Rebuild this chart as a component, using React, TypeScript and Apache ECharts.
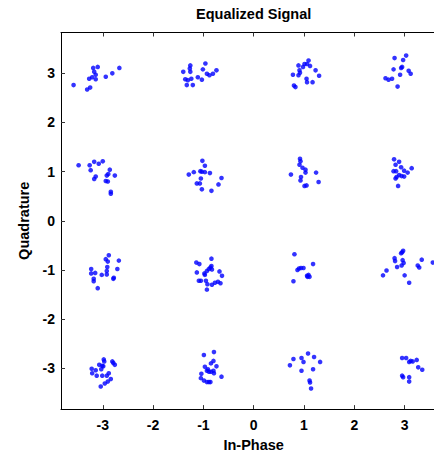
import React, { useEffect, useRef } from "react";
import * as echarts from "echarts";

// Tick values on both axes
const tickValues = [-3, -2, -1, 0, 1, 2, 3];

// Received symbols grouped by ideal constellation point (I, Q)
const clusterM3P3: [number, number][] = [
  [-3.58, 2.76], [-3.31, 2.67], [-3.25, 2.71], [-3.27, 2.89], [-3.21, 2.92], [-3.14, 2.88],
  [-3.14, 2.97], [-3.17, 3.03], [-3.19, 3.11], [-3.1, 3.13], [-2.94, 2.93], [-2.81, 3.0], [-2.67, 3.11],
];
const clusterM1P3: [number, number][] = [
  [-1.4, 3.03], [-1.36, 2.88], [-1.31, 2.86], [-1.33, 2.76], [-1.24, 2.89], [-1.21, 2.76],
  [-1.26, 3.03], [-1.27, 3.1], [-1.26, 3.16], [-1.11, 2.92], [-1.03, 2.87], [-1.01, 3.08],
  [-0.96, 3.2], [-0.93, 2.99], [-0.88, 2.96], [-0.81, 2.99], [-0.74, 3.06],
];
const clusterP1P3: [number, number][] = [
  [0.78, 2.97], [0.8, 2.75], [0.83, 2.72], [0.89, 3.16], [0.91, 3.06], [0.89, 2.96],
  [0.92, 3.01], [0.98, 3.13], [1.01, 3.19], [1.06, 3.19], [1.09, 3.26], [1.12, 3.15],
  [1.05, 2.89], [1.06, 2.82], [1.17, 2.82], [1.23, 3.06], [1.3, 2.95],
];
const clusterP3P3: [number, number][] = [
  [2.62, 2.9], [2.68, 2.87], [2.75, 2.89], [2.78, 3.08], [2.8, 3.31], [2.86, 2.73],
  [2.91, 2.97], [2.93, 3.11], [2.95, 3.13], [2.97, 3.27], [3.03, 3.36], [3.08, 3.05], [3.12, 2.99],
];
const clusterM3P1: [number, number][] = [
  [-3.48, 1.13], [-3.26, 1.13], [-3.24, 1.03], [-3.17, 1.2], [-3.08, 1.16], [-3.0, 1.21],
  [-2.86, 1.04], [-3.14, 0.9], [-3.17, 0.85], [-2.92, 0.92], [-2.89, 0.95], [-2.76, 0.92],
  [-2.94, 0.81], [-2.9, 0.8], [-2.84, 0.59], [-2.84, 0.55],
];
const clusterM1P1: [number, number][] = [
  [-1.29, 0.94], [-1.19, 0.99], [-1.06, 1.01], [-1.02, 1.22], [-0.97, 1.12], [-1.03, 1.0],
  [-0.97, 0.99], [-0.87, 0.97], [-1.05, 0.86], [-1.13, 0.76], [-1.07, 0.76], [-1.03, 0.64],
  [-0.84, 0.61], [-0.7, 0.74], [-0.64, 0.87],
];
const clusterP1P1: [number, number][] = [
  [0.74, 0.94], [0.92, 1.26], [0.93, 1.21], [0.91, 1.14], [0.97, 1.08], [1.03, 1.04],
  [1.03, 0.98], [0.94, 0.89], [0.93, 0.82], [1.01, 0.71], [1.05, 0.72], [1.24, 0.98], [1.29, 0.79],
];
const clusterP3P1: [number, number][] = [
  [2.79, 1.25], [2.89, 1.2], [2.82, 1.14], [2.93, 1.09], [2.78, 1.01], [2.83, 1.01],
  [2.99, 1.02], [3.06, 0.98], [3.14, 1.07], [2.89, 0.93], [2.94, 0.91], [2.99, 0.9],
  [2.84, 0.89], [2.82, 0.86], [2.87, 0.71],
];
const clusterM3M1: [number, number][] = [
  [-3.23, -0.98], [-3.23, -1.07], [-3.15, -1.06], [-3.18, -1.18], [-3.18, -1.23], [-3.1, -1.37],
  [-3.02, -1.1], [-2.94, -0.78], [-2.88, -0.7], [-2.9, -0.83], [-2.91, -0.94], [-2.92, -1.02],
  [-2.92, -1.09], [-2.79, -1.18], [-2.78, -1.16], [-2.71, -0.98], [-2.68, -0.81],
];
const clusterM1M1: [number, number][] = [
  [-1.14, -0.85], [-1.08, -0.88], [-1.13, -1.05], [-1.09, -1.22], [-1.05, -1.22], [-0.98, -1.07],
  [-0.97, -1.1], [-0.95, -1.22], [-0.93, -1.4], [-0.92, -1.29], [-0.93, -1.02], [-0.89, -0.98],
  [-0.86, -0.95], [-0.84, -0.77], [-0.84, -0.92], [-0.83, -0.99], [-0.83, -1.3], [-0.77, -1.26],
  [-0.68, -1.03], [-0.63, -1.12], [-0.71, -1.24], [-0.66, -1.27],
];
const clusterP1M1: [number, number][] = [
  [0.81, -0.68], [0.87, -1.0], [0.9, -0.97], [0.94, -0.96], [0.99, -0.96], [1.18, -0.88],
  [1.06, -1.12], [1.09, -1.1], [1.11, -1.14], [1.07, -1.14], [0.79, -1.23],
];
const clusterP3M1: [number, number][] = [
  [2.57, -1.11], [2.64, -1.01], [2.8, -0.76], [2.81, -0.82], [2.85, -0.94], [2.93, -0.66],
  [2.97, -0.61], [2.95, -0.64], [2.96, -0.8], [2.98, -0.86], [2.94, -0.91], [3.0, -1.11],
  [3.09, -1.26], [3.26, -0.91], [3.29, -0.95], [3.34, -0.79], [3.56, -0.85],
];
const clusterM3M3: [number, number][] = [
  [-3.22, -3.01], [-3.21, -3.1], [-3.14, -3.04], [-3.12, -3.15], [-3.07, -2.93], [-3.03, -3.02],
  [-3.01, -3.15], [-2.98, -2.82], [-2.97, -2.86], [-3.01, -2.95], [-2.99, -2.96], [-2.92, -3.15],
  [-2.88, -3.1], [-2.84, -3.22], [-2.9, -3.27], [-2.96, -3.31], [-3.04, -3.37], [-2.81, -2.86],
  [-2.79, -2.89], [-2.76, -2.93],
];
const clusterM1M3: [number, number][] = [
  [-0.99, -2.73], [-0.79, -2.67], [-0.97, -2.97], [-0.85, -2.9], [-0.8, -2.85], [-0.74, -2.96],
  [-1.04, -3.11], [-1.05, -3.2], [-0.99, -3.25], [-0.93, -3.28], [-0.89, -3.28], [-0.86, -3.28],
  [-0.93, -3.05], [-0.91, -3.02], [-0.89, -3.07], [-0.85, -3.07], [-0.8, -3.05], [-0.79, -3.1],
  [-0.64, -3.17],
];
const clusterP1M3: [number, number][] = [
  [0.72, -2.94], [0.79, -2.81], [0.95, -2.79], [0.99, -2.87], [1.08, -2.7], [1.2, -2.77],
  [1.32, -2.87], [0.95, -3.05], [1.18, -3.02], [1.11, -3.25], [1.12, -3.29], [1.14, -3.41],
];
const clusterP3M3: [number, number][] = [
  [2.95, -2.79], [3.03, -2.79], [3.09, -2.87], [3.12, -2.85], [3.16, -2.86], [3.24, -2.83],
  [3.27, -2.98], [3.35, -3.03], [2.95, -3.15], [2.97, -3.18], [3.09, -3.18], [3.09, -3.27],
];

const equalizedSymbols: [number, number][] = [
  ...clusterM3P3, ...clusterM1P3, ...clusterP1P3, ...clusterP3P3,
  ...clusterM3P1, ...clusterM1P1, ...clusterP1P1, ...clusterP3P1,
  ...clusterM3M1, ...clusterM1M1, ...clusterP1M1, ...clusterP3M1,
  ...clusterM3M3, ...clusterM1M3, ...clusterP1M3, ...clusterP3M3,
];

const FONT = '"Liberation Sans", Arial, Helvetica, sans-serif';

export default function App() {
  const ref = useRef<HTMLDivElement>(null);

  useEffect(() => {
    if (!ref.current) return;
    const chart = echarts.init(ref.current, undefined, { renderer: "svg" });
    const gridLeft = 61;
    const gridTop = 32.5;
    const gridW = 385.4;
    const gridH = 383.2;
    const axisMin = -3.83;
    const axisMax = 3.83;

    const labelStyle = {
      fontFamily: FONT,
      fontWeight: "bold" as const,
      fontSize: 14,
      color: "#000",
    };

    chart.setOption({
      animation: false,
      backgroundColor: "#fff",
      graphic: [
        {
          type: "text",
          x: gridLeft + gridW / 2,
          y: 14,
          style: {
            text: "Equalized Signal",
            fontFamily: FONT,
            fontWeight: "bold",
            fontSize: 14.5,
            fill: "#000",
            align: "center",
            verticalAlign: "middle",
          },
        },
      ],
      grid: { left: gridLeft, top: gridTop, width: gridW, height: gridH, containLabel: false },
      xAxis: [
        {
          type: "value",
          min: axisMin,
          max: axisMax,
          position: "bottom",
          name: "In-Phase",
          nameLocation: "middle",
          nameGap: 25,
          nameTextStyle: { ...labelStyle, fontSize: 14.5 },
          axisLine: { show: true, onZero: false, lineStyle: { color: "#000", width: 1 } },
          axisTick: { show: true, inside: true, length: 4, customValues: tickValues, lineStyle: { color: "#333" } },
          axisLabel: { ...labelStyle, margin: 9, customValues: tickValues },
          splitLine: { show: false },
        },
        {
          type: "value",
          min: axisMin,
          max: axisMax,
          position: "top",
          axisLine: { show: true, onZero: false, lineStyle: { color: "#000", width: 1 } },
          axisTick: { show: true, inside: true, length: 4, customValues: tickValues, lineStyle: { color: "#333" } },
          axisLabel: { show: false },
          splitLine: { show: false },
        },
      ],
      yAxis: [
        {
          type: "value",
          min: axisMin,
          max: axisMax,
          position: "left",
          name: "Quadrature",
          nameLocation: "middle",
          nameGap: 26,
          nameTextStyle: { ...labelStyle, fontSize: 14.5 },
          axisLine: { show: true, onZero: false, lineStyle: { color: "#000", width: 1 } },
          axisTick: { show: true, inside: true, length: 4, customValues: tickValues, lineStyle: { color: "#333" } },
          axisLabel: { ...labelStyle, margin: 6, customValues: tickValues },
          splitLine: { show: false },
        },
      ],
      series: [
        {
          type: "scatter",
          xAxisIndex: 0,
          yAxisIndex: 0,
          data: equalizedSymbols,
          symbol: "circle",
          symbolSize: 4.6,
          itemStyle: { color: "#0000ff" },
          silent: true,
        },
      ],
    });

    return () => chart.dispose();
  }, []);

  // The plot box runs past the right edge of the window, as in the reference,
  // so the chart is drawn on a wider canvas and clipped by the outer frame.
  return (
    <div style={{ position: "fixed", left: 0, top: 0, width: 434, height: 457, overflow: "hidden", background: "#fff" }}>
      <div ref={ref} style={{ width: 450, height: 457 }} />
    </div>
  );
}
